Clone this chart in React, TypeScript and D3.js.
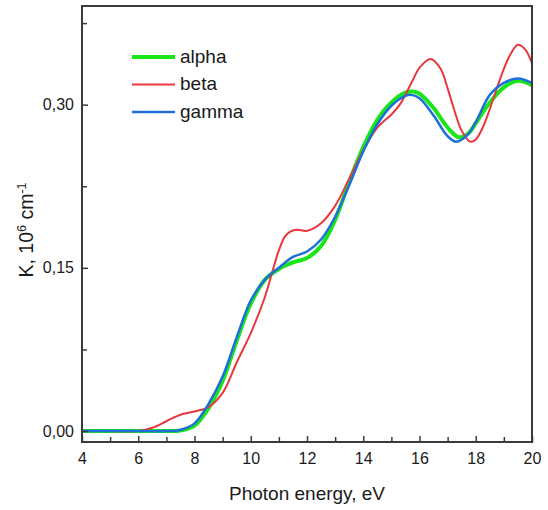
import React, { useEffect, useRef } from 'react';
import * as d3 from 'd3';

// photon energy (eV) and absorption K (10^6 cm^-1)
const alphaE = [4, 5, 6, 7, 7.5, 8, 8.5, 9, 9.5, 10, 10.5, 11, 11.5, 12, 12.5, 13, 13.5, 14, 14.5, 15, 15.5, 15.75, 16, 16.5, 17, 17.4, 17.75, 18, 18.5, 19, 19.5, 20];
const alphaK = [0, 0, 0, 0, 0.0005, 0.005, 0.021, 0.046, 0.083, 0.117, 0.139, 0.149, 0.155, 0.159, 0.17, 0.194, 0.229, 0.261, 0.286, 0.302, 0.311, 0.312, 0.31, 0.297, 0.279, 0.27, 0.274, 0.283, 0.302, 0.316, 0.322, 0.318];

const betaE = [4, 5, 6, 6.5, 7, 7.5, 8, 8.5, 9, 9.5, 10, 10.5, 11, 11.25, 11.6, 12, 12.5, 13, 13.5, 14, 14.5, 15, 15.3, 15.75, 16, 16.4, 16.75, 17, 17.25, 17.5, 17.8, 18, 18.25, 18.5, 18.75, 19, 19.25, 19.5, 19.75, 20];
const betaK = [0, 0, 0, 0.003, 0.009, 0.015, 0.018, 0.022, 0.035, 0.063, 0.09, 0.123, 0.166, 0.18, 0.185, 0.184, 0.191, 0.207, 0.232, 0.258, 0.279, 0.291, 0.3, 0.322, 0.334, 0.342, 0.333, 0.315, 0.294, 0.276, 0.266, 0.268, 0.279, 0.296, 0.315, 0.333, 0.347, 0.355, 0.351, 0.338];

const gammaE = [4, 5, 6, 7, 7.5, 8, 8.5, 9, 9.5, 10, 10.5, 11, 11.5, 12, 12.5, 13, 13.5, 14, 14.5, 15, 15.5, 15.7, 16, 16.5, 17, 17.3, 17.7, 18, 18.5, 19, 19.5, 20];
const gammaK = [0, 0, 0, 0, 0.001, 0.007, 0.025, 0.05, 0.086, 0.12, 0.139, 0.15, 0.16, 0.165, 0.176, 0.197, 0.226, 0.257, 0.282, 0.299, 0.308, 0.309, 0.306, 0.29, 0.271, 0.266, 0.272, 0.284, 0.309, 0.32, 0.324, 0.32];

const seriesNames = ['alpha', 'beta', 'gamma'];
const seriesColors = ['#19e619', '#e8383d', '#1f6fd8'];
const seriesWidths = [4, 2, 2.5];

const xMajor = [4, 6, 8, 10, 12, 14, 16, 18, 20];
const xMinor = [5, 7, 9, 11, 13, 15, 17, 19];
const yMajor = [0, 0.15, 0.3];
const yMinor = [0.075, 0.225, 0.375];

function App() {
  const ref = useRef<SVGSVGElement>(null);

  useEffect(() => {
    const svg = d3.select(ref.current);
    svg.selectAll('*').remove();
    const width = 548;
    const height = 510;
    const margin = { top: 6, right: 16, bottom: 68, left: 82 };
    const font = '"Liberation Sans", Arial, sans-serif';

    const x = d3.scaleLinear().domain([4, 20]).range([margin.left, width - margin.right]);
    const y = d3.scaleLinear().domain([-0.0101, 0.3907]).range([height - margin.bottom, margin.top]);

    svg
      .append('defs')
      .append('clipPath')
      .attr('id', 'plot-clip')
      .append('rect')
      .attr('x', margin.left)
      .attr('y', margin.top)
      .attr('width', width - margin.left - margin.right)
      .attr('height', height - margin.top - margin.bottom);

    const line = d3
      .line<[number, number]>()
      .x(d => x(d[0]))
      .y(d => y(d[1]))
      .curve(d3.curveCatmullRom.alpha(0.5));

    const series = [
      d3.zip(alphaE, alphaK),
      d3.zip(betaE, betaK),
      d3.zip(gammaE, gammaK),
    ] as [number, number][][];

    const plot = svg.append('g').attr('clip-path', 'url(#plot-clip)');
    series.forEach((s, i) => {
      plot
        .append('path')
        .datum(s)
        .attr('fill', 'none')
        .attr('stroke', seriesColors[i])
        .attr('stroke-width', seriesWidths[i])
        .attr('stroke-linejoin', 'round')
        .attr('stroke-linecap', 'round')
        .attr('d', line);
    });

    // frame
    svg
      .append('rect')
      .attr('x', x(4))
      .attr('y', y.range()[1])
      .attr('width', x(20) - x(4))
      .attr('height', y.range()[0] - y.range()[1])
      .attr('fill', 'none')
      .attr('stroke', '#3a3a3a')
      .attr('stroke-width', 2);

    const xAxis = svg.append('g').attr('transform', `translate(0,${y.range()[0]})`);
    xAxis
      .call(d3.axisBottom(x).tickValues(xMajor).tickSize(-6).tickFormat(d3.format('d')))
      .call(g => g.select('.domain').remove());
    xAxis.selectAll('.tick line').attr('stroke', '#3a3a3a').attr('stroke-width', 1.5);
    xAxis
      .selectAll('.tick text')
      .attr('y', 11)
      .attr('dy', '0.71em')
      .attr('font-size', 16)
      .attr('font-family', font)
      .attr('fill', '#1a1a1a');
    svg
      .append('g')
      .attr('transform', `translate(0,${y.range()[0]})`)
      .call(d3.axisBottom(x).tickValues(xMinor).tickSize(-5).tickFormat(() => ''))
      .call(g => g.select('.domain').remove())
      .call(g => g.selectAll('.tick line').attr('stroke', '#3a3a3a').attr('stroke-width', 1.5));

    const yAxis = svg.append('g').attr('transform', `translate(${x(4)},0)`);
    yAxis
      .call(
        d3
          .axisLeft(y)
          .tickValues(yMajor)
          .tickSize(-6)
          .tickFormat(d => d3.format('.2f')(d as number).replace('.', ',')),
      )
      .call(g => g.select('.domain').remove());
    yAxis.selectAll('.tick line').attr('stroke', '#3a3a3a').attr('stroke-width', 1.5);
    yAxis
      .selectAll('.tick text')
      .attr('x', -8)
      .attr('font-size', 16)
      .attr('font-family', font)
      .attr('fill', '#1a1a1a');
    svg
      .append('g')
      .attr('transform', `translate(${x(4)},0)`)
      .call(d3.axisLeft(y).tickValues(yMinor).tickSize(-5).tickFormat(() => ''))
      .call(g => g.select('.domain').remove())
      .call(g => g.selectAll('.tick line').attr('stroke', '#3a3a3a').attr('stroke-width', 1.5));

    // axis titles
    svg
      .append('text')
      .attr('x', (x(4) + x(20)) / 2)
      .attr('y', 500)
      .attr('text-anchor', 'middle')
      .attr('font-size', 19)
      .attr('font-family', font)
      .attr('fill', '#1a1a1a')
      .text('Photon energy, eV');

    const yTitle = svg
      .append('text')
      .attr('transform', 'translate(33,230) rotate(-90)')
      .attr('text-anchor', 'middle')
      .attr('font-size', 19.5)
      .attr('font-family', font)
      .attr('fill', '#1a1a1a');
    yTitle.append('tspan').text('K, 10');
    yTitle.append('tspan').attr('dy', -7).attr('font-size', 12.5).text('6');
    yTitle.append('tspan').attr('dy', 7).text(' cm');
    yTitle.append('tspan').attr('dy', -7).attr('font-size', 12.5).text('-1');

    // legend
    const legend = svg.append('g');
    seriesNames.forEach((name, i) => {
      const ly = 57 + i * 27.5;
      legend
        .append('line')
        .attr('x1', 132)
        .attr('x2', 175)
        .attr('y1', ly)
        .attr('y2', ly)
        .attr('stroke', seriesColors[i])
        .attr('stroke-width', seriesWidths[i]);
      legend
        .append('text')
        .attr('x', 180)
        .attr('y', ly)
        .attr('dy', '0.3em')
        .attr('font-size', 19)
        .attr('font-family', font)
        .attr('fill', '#1a1a1a')
        .text(name);
    });
  });

  return (
    <div>
      <svg
        ref={ref}
        width="548"
        height="510"
        style={{ position: 'absolute', left: 0, top: 0, background: '#fff' }}
      />
    </div>
  );
}

export default App;
